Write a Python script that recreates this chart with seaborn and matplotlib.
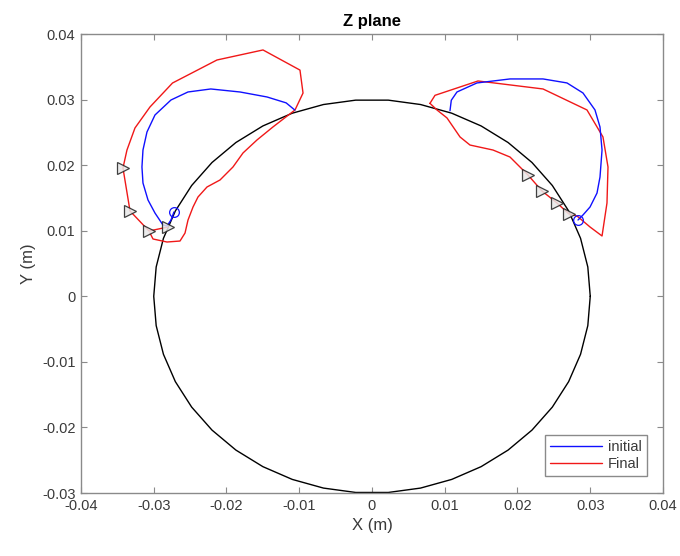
import numpy as np
import pandas as pd
import matplotlib
matplotlib.use("Agg")
import matplotlib.pyplot as plt
import seaborn as sns
from matplotlib.lines import Line2D

# ---- data (metres) ----
circle_radius = 0.03
circle_segments = 42

left_initial_x = [-0.02722, -0.02763, -0.02818, -0.02873, -0.02983, -0.03079, -0.03148,
                  -0.03162, -0.03148, -0.03093, -0.02983, -0.02763, -0.02530, -0.02216,
                  -0.01814, -0.01443, -0.01180, -0.01060]
left_initial_y = [0.01286, 0.01164, 0.01072, 0.01087, 0.01270, 0.01469, 0.01728,
                  0.01972, 0.02231, 0.02506, 0.02765, 0.02994, 0.03116, 0.03162,
                  0.03116, 0.03040, 0.02950, 0.02840]

right_initial_x = [0.02832, 0.02900, 0.02997, 0.03093, 0.03134, 0.03162, 0.03134, 0.03065,
                   0.02900, 0.02680, 0.02351, 0.01897, 0.01443, 0.01168, 0.01090, 0.01072]
right_initial_y = [0.01164, 0.01240, 0.01362, 0.01575, 0.01819, 0.02231, 0.02582, 0.02842,
                   0.03101, 0.03254, 0.03315, 0.03315, 0.03254, 0.03116, 0.02990, 0.02830]

left_final_x = [-0.02804, -0.03065, -0.03326, -0.03423, -0.03368, -0.03258, -0.03052,
                -0.02742, -0.02131, -0.01498, -0.00990, -0.00948, -0.01058, -0.01361,
                -0.01581, -0.01773, -0.01911, -0.02089, -0.02268, -0.02392, -0.02460,
                -0.02529, -0.02570, -0.02639, -0.02818, -0.03010, -0.03052]
left_final_y = [0.01057, 0.00996, 0.01301, 0.01957, 0.02231, 0.02567, 0.02887,
                0.03253, 0.03604, 0.03757, 0.03450, 0.03100, 0.02842, 0.02583,
                0.02384, 0.02186, 0.01972, 0.01774, 0.01667, 0.01514, 0.01362,
                0.01163, 0.00965, 0.00843, 0.00828, 0.00874, 0.00965]

right_final_x = [0.00797, 0.00866, 0.01457, 0.02351, 0.02955, 0.03175, 0.03244, 0.03230,
                 0.03162, 0.02997, 0.02818, 0.02708, 0.02543, 0.02337, 0.02144, 0.01897,
                 0.01663, 0.01347, 0.01210, 0.01031, 0.00893, 0.00797]
right_final_y = [0.02943, 0.03065, 0.03284, 0.03162, 0.02842, 0.02430, 0.01972, 0.01423,
                 0.00920, 0.01057, 0.01225, 0.01255, 0.01423, 0.01606, 0.01850, 0.02124,
                 0.02231, 0.02307, 0.02430, 0.02720, 0.02842, 0.02943]

# triangle markers on the final paths
tri_x = [-0.03423, -0.03326, -0.03065, -0.02804, 0.02144, 0.02337, 0.02543, 0.02708]
tri_y = [0.01957, 0.01301, 0.00996, 0.01057, 0.01850, 0.01606, 0.01423, 0.01255]

# circle markers at the start of the initial paths
start_x = [-0.02722, 0.02832]
start_y = [0.01286, 0.01164]

x_ticks = [-0.04, -0.03, -0.02, -0.01, 0.0, 0.01, 0.02, 0.03, 0.04]
x_tick_labels = ["-0.04", "-0.03", "-0.02", "-0.01", "0", "0.01", "0.02", "0.03", "0.04"]
y_ticks = [-0.03, -0.02, -0.01, 0.0, 0.01, 0.02, 0.03, 0.04]
y_tick_labels = ["-0.03", "-0.02", "-0.01", "0", "0.01", "0.02", "0.03", "0.04"]

# ---- style ----
sns.set_style("white")
plt.rcParams["font.family"] = ["Liberation Sans", "DejaVu Sans"]
text_grey = "#3a3a3a"
axis_grey = "#8a8a8a"
blue = "#1010ff"
red = "#f01818"

fig = plt.figure(figsize=(6.8, 5.56), dpi=100)
ax = fig.add_axes([0.1191, 0.1133, 0.8559, 0.8255])

# boundary circle
t = np.linspace(0, 2 * np.pi, circle_segments + 1)
circle = pd.DataFrame({"x": circle_radius * np.cos(t), "y": circle_radius * np.sin(t)})
sns.lineplot(data=circle, x="x", y="y", sort=False, estimator=None, color="black",
             lw=1.0, ax=ax)

for xs, ys, c in [(left_final_x, left_final_y, red), (right_final_x, right_final_y, red),
                  (left_initial_x, left_initial_y, blue),
                  (right_initial_x, right_initial_y, blue)]:
    sns.lineplot(x=xs, y=ys, sort=False, estimator=None, color=c, lw=1.0, ax=ax)

ax.plot(tri_x, tri_y, linestyle="none", marker=">", markersize=8,
        markerfacecolor="#e8e8e8", markeredgecolor="#202020", markeredgewidth=0.9,
        alpha=0.85, zorder=5)
ax.plot(start_x, start_y, linestyle="none", marker="o", markersize=7,
        markerfacecolor="none", markeredgecolor=blue, markeredgewidth=0.9, zorder=5)

ax.set_xlim(-0.04, 0.04)
ax.set_ylim(-0.03, 0.04)
ax.set_xticks(x_ticks)
ax.set_xticklabels(x_tick_labels)
ax.set_yticks(y_ticks)
ax.set_yticklabels(y_tick_labels)
ax.tick_params(direction="in", length=4, width=0.8, color=axis_grey, labelcolor=text_grey,
               labelsize=10.5, top=True, right=True, bottom=True, left=True, pad=4)
for s in ax.spines.values():
    s.set_color(axis_grey)
    s.set_linewidth(1.0)

ax.set_xlabel("X (m)", fontsize=12, color=text_grey, labelpad=4)
ax.set_ylabel("Y (m)", fontsize=12, color=text_grey, labelpad=4)
ax.set_title("Z plane", fontsize=12, fontweight="bold", color="black", pad=6)

handles = [Line2D([0], [0], color=blue, lw=1.0), Line2D([0], [0], color=red, lw=1.0)]
leg = ax.legend(handles, ["initial", "Final"], loc="lower right",
                bbox_to_anchor=(0.9725, 0.037), borderaxespad=0, fontsize=10.5,
                handlelength=3.6, fancybox=False, framealpha=1, edgecolor=axis_grey,
                borderpad=0.35, labelspacing=0.2, handletextpad=0.4)
for txt in leg.get_texts():
    txt.set_color(text_grey)

fig.savefig("out.png", dpi=100, facecolor="white")
